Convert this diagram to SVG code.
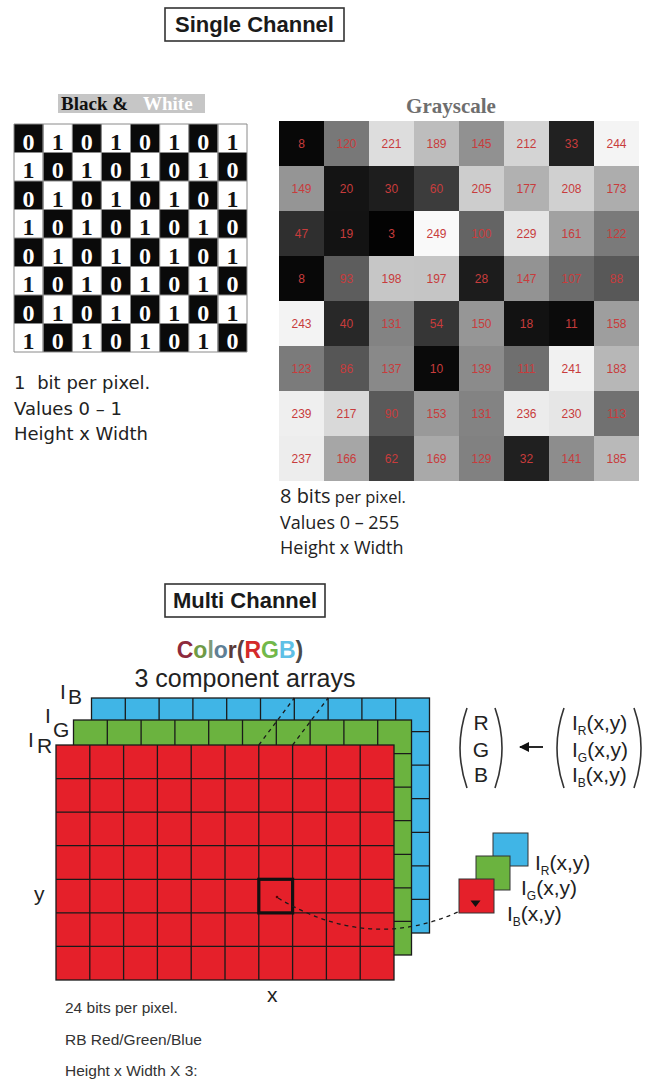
<svg xmlns="http://www.w3.org/2000/svg" width="647" height="1081" viewBox="0 0 647 1081">
<style>
.title{font-family:'Liberation Sans',Arial,sans-serif;font-weight:bold;font-size:22px;fill:#1a1a1a}
.tbox{fill:#fff;stroke:#333;stroke-width:1.6}
.d0{font-family:'Liberation Serif','Times New Roman',serif;font-weight:bold;font-size:24px;fill:#fff;text-anchor:middle}
.d1{font-family:'Liberation Serif','Times New Roman',serif;font-weight:bold;font-size:24px;fill:#111;text-anchor:middle}
.gv{font-family:'Liberation Sans',Arial,sans-serif;font-size:12px;fill:#c83c3c;text-anchor:middle}
.nl{font-family:'DejaVu Sans',Verdana,sans-serif;font-size:18px;fill:#222}
.ng{font-family:'Open Sans',sans-serif;font-size:18px;fill:#222}
.nb{font-family:'Liberation Sans',Arial,sans-serif;font-size:15.5px;fill:#333}
.lab{font-family:'Liberation Sans',Arial,sans-serif;font-size:21px;fill:#222}
.grid{fill:none;stroke:#1a1a1a;stroke-width:1.3}
.lay{stroke:#1a1a1a;stroke-width:1.3}
.blue{fill:#40b5e6}
.green{fill:#6bb33f}
.red{fill:#e5202a}
.bwgrid{fill:none;stroke:#8a8a8a;stroke-width:1}
.dash{fill:none;stroke:#1a1a1a;stroke-width:1.3;stroke-dasharray:4 4}
.paren{fill:none;stroke:#333;stroke-width:1.6}
.px{stroke:#333;stroke-width:1}
</style>
<defs>
<pattern id="chk" x="14" y="124" width="58.25" height="57" patternUnits="userSpaceOnUse">
<rect x="0" y="0" width="29.125" height="28.5" fill="#0a0a0a"/>
<rect x="29.125" y="28.5" width="29.125" height="28.5" fill="#0a0a0a"/>
</pattern>
<marker id="ah" viewBox="0 0 10 10" refX="9" refY="5" markerWidth="10" markerHeight="10" markerUnits="userSpaceOnUse" orient="auto">
<path d="M0 0L10 5L0 10Z" fill="#111"/>
</marker>
</defs>
<rect width="647" height="1081" fill="#fff"/>

<g id="title-single">
<rect class="tbox" x="165" y="8" width="179" height="33"/>
<text class="title" x="254.5" y="32" text-anchor="middle">Single Channel</text>
</g>

<g id="black-white">
<rect x="58" y="94" width="147" height="19" fill="#c6c6c6"/>
<text x="61" y="110" font-family="'Liberation Serif','Times New Roman',serif" font-weight="bold" font-size="19" fill="#111">Black &amp;<tspan x="143" fill="#fff">White</tspan></text>
<rect x="14" y="124" width="233" height="228" fill="#fff"/>
<rect x="14" y="124" width="233" height="228" fill="url(#chk)"/>
<path class="bwgrid" d="M14 124H247V352H14ZM43.1 124V352M72.3 124V352M101.4 124V352M130.5 124V352M159.6 124V352M188.8 124V352M217.9 124V352M14 152.5H247M14 181H247M14 209.5H247M14 238H247M14 266.5H247M14 295H247M14 323.5H247"/>
<text class="d0" x="28.6" y="149.5">0</text><text class="d1" x="57.7" y="149.5">1</text><text class="d0" x="86.8" y="149.5">0</text><text class="d1" x="115.9" y="149.5">1</text><text class="d0" x="145.1" y="149.5">0</text><text class="d1" x="174.2" y="149.5">1</text><text class="d0" x="203.3" y="149.5">0</text><text class="d1" x="232.4" y="149.5">1</text>
<text class="d1" x="28.6" y="178">1</text><text class="d0" x="57.7" y="178">0</text><text class="d1" x="86.8" y="178">1</text><text class="d0" x="115.9" y="178">0</text><text class="d1" x="145.1" y="178">1</text><text class="d0" x="174.2" y="178">0</text><text class="d1" x="203.3" y="178">1</text><text class="d0" x="232.4" y="178">0</text>
<text class="d0" x="28.6" y="206.5">0</text><text class="d1" x="57.7" y="206.5">1</text><text class="d0" x="86.8" y="206.5">0</text><text class="d1" x="115.9" y="206.5">1</text><text class="d0" x="145.1" y="206.5">0</text><text class="d1" x="174.2" y="206.5">1</text><text class="d0" x="203.3" y="206.5">0</text><text class="d1" x="232.4" y="206.5">1</text>
<text class="d1" x="28.6" y="235">1</text><text class="d0" x="57.7" y="235">0</text><text class="d1" x="86.8" y="235">1</text><text class="d0" x="115.9" y="235">0</text><text class="d1" x="145.1" y="235">1</text><text class="d0" x="174.2" y="235">0</text><text class="d1" x="203.3" y="235">1</text><text class="d0" x="232.4" y="235">0</text>
<text class="d0" x="28.6" y="263.5">0</text><text class="d1" x="57.7" y="263.5">1</text><text class="d0" x="86.8" y="263.5">0</text><text class="d1" x="115.9" y="263.5">1</text><text class="d0" x="145.1" y="263.5">0</text><text class="d1" x="174.2" y="263.5">1</text><text class="d0" x="203.3" y="263.5">0</text><text class="d1" x="232.4" y="263.5">1</text>
<text class="d1" x="28.6" y="292">1</text><text class="d0" x="57.7" y="292">0</text><text class="d1" x="86.8" y="292">1</text><text class="d0" x="115.9" y="292">0</text><text class="d1" x="145.1" y="292">1</text><text class="d0" x="174.2" y="292">0</text><text class="d1" x="203.3" y="292">1</text><text class="d0" x="232.4" y="292">0</text>
<text class="d0" x="28.6" y="320.5">0</text><text class="d1" x="57.7" y="320.5">1</text><text class="d0" x="86.8" y="320.5">0</text><text class="d1" x="115.9" y="320.5">1</text><text class="d0" x="145.1" y="320.5">0</text><text class="d1" x="174.2" y="320.5">1</text><text class="d0" x="203.3" y="320.5">0</text><text class="d1" x="232.4" y="320.5">1</text>
<text class="d1" x="28.6" y="349">1</text><text class="d0" x="57.7" y="349">0</text><text class="d1" x="86.8" y="349">1</text><text class="d0" x="115.9" y="349">0</text><text class="d1" x="145.1" y="349">1</text><text class="d0" x="174.2" y="349">0</text><text class="d1" x="203.3" y="349">1</text><text class="d0" x="232.4" y="349">0</text>
<text class="nl" x="14" y="389">1<tspan dx="6"> bit per pixel.</tspan></text>
<text class="nl" x="14" y="415">Values 0 – 1</text>
<text class="nl" x="14" y="440">Height x Width</text>
</g>

<g id="grayscale">
<text x="451" y="113" text-anchor="middle" font-family="'Liberation Serif','Times New Roman',serif" font-weight="bold" font-size="21" fill="#6e6e6e">Grayscale</text>
<g shape-rendering="crispEdges">
<rect x="279" y="121" width="45" height="45" fill="#080808"/><rect x="324" y="121" width="45" height="45" fill="#787878"/><rect x="369" y="121" width="45" height="45" fill="#dddddd"/><rect x="414" y="121" width="45" height="45" fill="#bdbdbd"/><rect x="459" y="121" width="45" height="45" fill="#919191"/><rect x="504" y="121" width="45" height="45" fill="#d4d4d4"/><rect x="549" y="121" width="45" height="45" fill="#212121"/><rect x="594" y="121" width="45" height="45" fill="#f4f4f4"/>
<rect x="279" y="166" width="45" height="45" fill="#959595"/><rect x="324" y="166" width="45" height="45" fill="#141414"/><rect x="369" y="166" width="45" height="45" fill="#1e1e1e"/><rect x="414" y="166" width="45" height="45" fill="#3c3c3c"/><rect x="459" y="166" width="45" height="45" fill="#cdcdcd"/><rect x="504" y="166" width="45" height="45" fill="#b1b1b1"/><rect x="549" y="166" width="45" height="45" fill="#d0d0d0"/><rect x="594" y="166" width="45" height="45" fill="#adadad"/>
<rect x="279" y="211" width="45" height="45" fill="#2f2f2f"/><rect x="324" y="211" width="45" height="45" fill="#131313"/><rect x="369" y="211" width="45" height="45" fill="#030303"/><rect x="414" y="211" width="45" height="45" fill="#f9f9f9"/><rect x="459" y="211" width="45" height="45" fill="#646464"/><rect x="504" y="211" width="45" height="45" fill="#e5e5e5"/><rect x="549" y="211" width="45" height="45" fill="#a1a1a1"/><rect x="594" y="211" width="45" height="45" fill="#7a7a7a"/>
<rect x="279" y="256" width="45" height="45" fill="#080808"/><rect x="324" y="256" width="45" height="45" fill="#5d5d5d"/><rect x="369" y="256" width="45" height="45" fill="#c6c6c6"/><rect x="414" y="256" width="45" height="45" fill="#c5c5c5"/><rect x="459" y="256" width="45" height="45" fill="#1c1c1c"/><rect x="504" y="256" width="45" height="45" fill="#939393"/><rect x="549" y="256" width="45" height="45" fill="#6b6b6b"/><rect x="594" y="256" width="45" height="45" fill="#585858"/>
<rect x="279" y="301" width="45" height="45" fill="#f3f3f3"/><rect x="324" y="301" width="45" height="45" fill="#282828"/><rect x="369" y="301" width="45" height="45" fill="#838383"/><rect x="414" y="301" width="45" height="45" fill="#363636"/><rect x="459" y="301" width="45" height="45" fill="#969696"/><rect x="504" y="301" width="45" height="45" fill="#121212"/><rect x="549" y="301" width="45" height="45" fill="#0b0b0b"/><rect x="594" y="301" width="45" height="45" fill="#9e9e9e"/>
<rect x="279" y="346" width="45" height="45" fill="#7b7b7b"/><rect x="324" y="346" width="45" height="45" fill="#565656"/><rect x="369" y="346" width="45" height="45" fill="#898989"/><rect x="414" y="346" width="45" height="45" fill="#0a0a0a"/><rect x="459" y="346" width="45" height="45" fill="#8b8b8b"/><rect x="504" y="346" width="45" height="45" fill="#6f6f6f"/><rect x="549" y="346" width="45" height="45" fill="#f1f1f1"/><rect x="594" y="346" width="45" height="45" fill="#b7b7b7"/>
<rect x="279" y="391" width="45" height="45" fill="#efefef"/><rect x="324" y="391" width="45" height="45" fill="#d9d9d9"/><rect x="369" y="391" width="45" height="45" fill="#5a5a5a"/><rect x="414" y="391" width="45" height="45" fill="#999999"/><rect x="459" y="391" width="45" height="45" fill="#838383"/><rect x="504" y="391" width="45" height="45" fill="#ececec"/><rect x="549" y="391" width="45" height="45" fill="#e6e6e6"/><rect x="594" y="391" width="45" height="45" fill="#717171"/>
<rect x="279" y="436" width="45" height="45" fill="#ededed"/><rect x="324" y="436" width="45" height="45" fill="#a6a6a6"/><rect x="369" y="436" width="45" height="45" fill="#3e3e3e"/><rect x="414" y="436" width="45" height="45" fill="#a9a9a9"/><rect x="459" y="436" width="45" height="45" fill="#818181"/><rect x="504" y="436" width="45" height="45" fill="#202020"/><rect x="549" y="436" width="45" height="45" fill="#8d8d8d"/><rect x="594" y="436" width="45" height="45" fill="#b9b9b9"/>
</g>
<text class="gv" x="301.5" y="148">8</text><text class="gv" x="346.5" y="148">120</text><text class="gv" x="391.5" y="148">221</text><text class="gv" x="436.5" y="148">189</text><text class="gv" x="481.5" y="148">145</text><text class="gv" x="526.5" y="148">212</text><text class="gv" x="571.5" y="148">33</text><text class="gv" x="616.5" y="148">244</text>
<text class="gv" x="301.5" y="193">149</text><text class="gv" x="346.5" y="193">20</text><text class="gv" x="391.5" y="193">30</text><text class="gv" x="436.5" y="193">60</text><text class="gv" x="481.5" y="193">205</text><text class="gv" x="526.5" y="193">177</text><text class="gv" x="571.5" y="193">208</text><text class="gv" x="616.5" y="193">173</text>
<text class="gv" x="301.5" y="238">47</text><text class="gv" x="346.5" y="238">19</text><text class="gv" x="391.5" y="238">3</text><text class="gv" x="436.5" y="238">249</text><text class="gv" x="481.5" y="238">100</text><text class="gv" x="526.5" y="238">229</text><text class="gv" x="571.5" y="238">161</text><text class="gv" x="616.5" y="238">122</text>
<text class="gv" x="301.5" y="283">8</text><text class="gv" x="346.5" y="283">93</text><text class="gv" x="391.5" y="283">198</text><text class="gv" x="436.5" y="283">197</text><text class="gv" x="481.5" y="283">28</text><text class="gv" x="526.5" y="283">147</text><text class="gv" x="571.5" y="283">107</text><text class="gv" x="616.5" y="283">88</text>
<text class="gv" x="301.5" y="328">243</text><text class="gv" x="346.5" y="328">40</text><text class="gv" x="391.5" y="328">131</text><text class="gv" x="436.5" y="328">54</text><text class="gv" x="481.5" y="328">150</text><text class="gv" x="526.5" y="328">18</text><text class="gv" x="571.5" y="328">11</text><text class="gv" x="616.5" y="328">158</text>
<text class="gv" x="301.5" y="373">123</text><text class="gv" x="346.5" y="373">86</text><text class="gv" x="391.5" y="373">137</text><text class="gv" x="436.5" y="373">10</text><text class="gv" x="481.5" y="373">139</text><text class="gv" x="526.5" y="373">111</text><text class="gv" x="571.5" y="373">241</text><text class="gv" x="616.5" y="373">183</text>
<text class="gv" x="301.5" y="418">239</text><text class="gv" x="346.5" y="418">217</text><text class="gv" x="391.5" y="418">90</text><text class="gv" x="436.5" y="418">153</text><text class="gv" x="481.5" y="418">131</text><text class="gv" x="526.5" y="418">236</text><text class="gv" x="571.5" y="418">230</text><text class="gv" x="616.5" y="418">113</text>
<text class="gv" x="301.5" y="463">237</text><text class="gv" x="346.5" y="463">166</text><text class="gv" x="391.5" y="463">62</text><text class="gv" x="436.5" y="463">169</text><text class="gv" x="481.5" y="463">129</text><text class="gv" x="526.5" y="463">32</text><text class="gv" x="571.5" y="463">141</text><text class="gv" x="616.5" y="463">185</text>
<text class="ng" x="280" y="503"><tspan font-size="20">8 bits</tspan><tspan font-size="16.5"> per pixel.</tspan></text>
<text class="ng" x="280" y="529">Values 0 – 255</text>
<text class="ng" x="280" y="554">Height x Width</text>
</g>

<g id="title-multi">
<rect class="tbox" x="165" y="584" width="160" height="33"/>
<text class="title" x="245" y="608" text-anchor="middle">Multi Channel</text>
</g>

<g id="rgb-title" font-family="'Liberation Sans',Arial,sans-serif">
<text x="240" y="658" text-anchor="middle" font-weight="bold" font-size="23"><tspan fill="#8e2a3c">C</tspan><tspan fill="#6f9a45">o</tspan><tspan fill="#7f9a7a">l</tspan><tspan fill="#5f7f95">o</tspan><tspan fill="#5a3a3a">r</tspan><tspan fill="#5a4040">(</tspan><tspan fill="#d42a2a">R</tspan><tspan fill="#72b84a">G</tspan><tspan fill="#5fc0e6">B</tspan><tspan fill="#4a4a4a">)</tspan></text>
<text x="245" y="687" text-anchor="middle" font-size="25" fill="#222">3 component arrays</text>
</g>

<g id="layer-blue">
<rect class="lay blue" x="91.5" y="698" width="338" height="235"/>
<path class="grid" d="M125.3 698V933M159.1 698V933M192.9 698V933M226.7 698V933M260.5 698V933M294.3 698V933M328.1 698V933M361.9 698V933M395.7 698V933M91.5 731.6H429.5M91.5 765.1H429.5M91.5 798.7H429.5M91.5 832.3H429.5M91.5 865.9H429.5M91.5 899.4H429.5"/>
<text class="lab" x="60" y="699" font-size="27">I</text>
<text class="lab" x="68" y="704" font-size="13">B</text>
</g>
<g id="layer-green">
<rect class="lay green" x="73.5" y="720" width="338" height="235"/>
<path class="grid" d="M107.3 720V955M141.1 720V955M174.9 720V955M208.7 720V955M242.5 720V955M276.3 720V955M310.1 720V955M343.9 720V955M377.7 720V955M73.5 753.6H411.5M73.5 787.1H411.5M73.5 820.7H411.5M73.5 854.3H411.5M73.5 887.9H411.5M73.5 921.4H411.5"/>
<text class="lab" x="45" y="723" font-size="27">I</text>
<text class="lab" x="53" y="737" font-size="13">G</text>
</g>
<g id="layer-red">
<rect class="lay red" x="56" y="745" width="338" height="235"/>
<path class="grid" d="M89.8 745V980M123.6 745V980M157.4 745V980M191.2 745V980M225 745V980M258.8 745V980M292.6 745V980M326.4 745V980M360.2 745V980M56 778.6H394M56 812.1H394M56 845.7H394M56 879.3H394M56 912.9H394M56 946.4H394"/>
<rect x="258.8" y="879.3" width="33.8" height="33.6" fill="none" stroke="#111" stroke-width="3.2"/>
<circle cx="277" cy="897" r="1.3" fill="#5a0000"/>
<text class="lab" x="28" y="747" font-size="27">I</text>
<text class="lab" x="37" y="753" font-size="12">R</text>
<text class="lab" x="34" y="901" font-size="18">y</text>
<text class="lab" x="267" y="1002" font-size="18">x</text>
</g>

<g id="matrix-rgb">
<path class="paren" d="M467 708Q453 748 467 788M495 708Q509 748 495 788"/>
<text class="lab" x="481" y="730" text-anchor="middle">R</text>
<text class="lab" x="481" y="757" text-anchor="middle">G</text>
<text class="lab" x="481" y="782" text-anchor="middle">B</text>
</g>
<g id="matrix-i">
<path class="paren" d="M564 708Q550 748 564 788M634 708Q648 748 634 788"/>
<text class="lab" x="572" y="730">I<tspan dy="5" font-size="12">R</tspan><tspan dy="-5">(x,y)</tspan></text>
<text class="lab" x="572" y="757">I<tspan dy="5" font-size="12">G</tspan><tspan dy="-5">(x,y)</tspan></text>
<text class="lab" x="572" y="782">I<tspan dy="5" font-size="12">B</tspan><tspan dy="-5">(x,y)</tspan></text>
</g>

<g id="pixel-stack">
<rect class="px blue" x="493" y="833" width="35" height="33"/>
<rect class="px green" x="476" y="856" width="34" height="34"/>
<rect class="px red" x="459" y="879" width="35" height="34"/>
<text class="lab" x="535" y="870">I<tspan dy="5" font-size="12">R</tspan><tspan dy="-5">(x,y)</tspan></text>
<text class="lab" x="521" y="895">I<tspan dy="5" font-size="12">G</tspan><tspan dy="-5">(x,y)</tspan></text>
<text class="lab" x="507" y="921">I<tspan dy="5" font-size="12">B</tspan><tspan dy="-5">(x,y)</tspan></text>
</g>

<g id="connectors">
<path class="dash" d="M258.8 745L294.3 698M292.6 745L328.1 698"/>
<path class="dash" d="M278 898Q370 953 460 911"/>
<path d="M470.5 900.5H480.5L475.5 907Z" fill="#111"/>
<path d="M543 747H520" stroke="#111" stroke-width="1.8" marker-end="url(#ah)"/>
</g>

<g id="notes-rgb">
<text class="nb" x="65" y="1013">24 bits per pixel.</text>
<text class="nb" x="65" y="1045">RB Red/Green/Blue</text>
<text class="nb" x="65" y="1076">Height x Width X 3:</text>
</g>
</svg>
